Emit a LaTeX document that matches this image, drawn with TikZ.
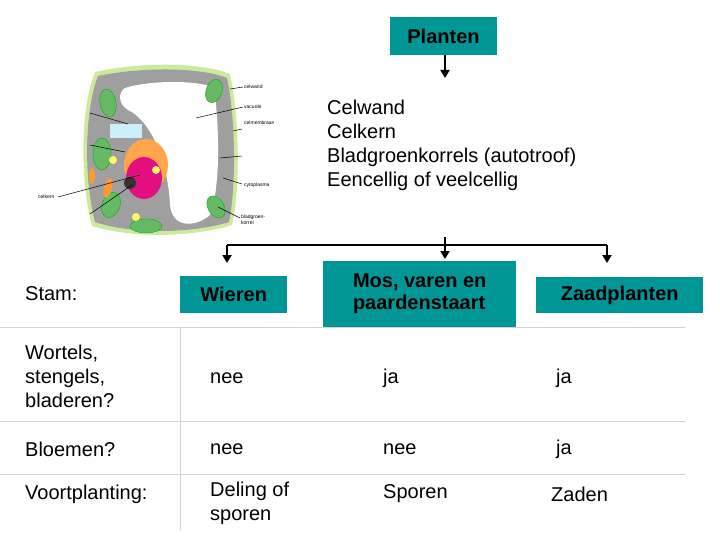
\documentclass[tikz,border=0pt]{standalone}
\usepackage{fontspec}
\setmainfont{Liberation Sans}
\usetikzlibrary{arrows.meta}
\begin{document}
\begin{tikzpicture}[x=1pt,y=-1pt,
  tbox/.style={fill=teal60,draw=none,font=\bfseries\fontsize{20}{22}\selectfont,align=left,inner sep=4pt},
  txt/.style={font=\fontsize{20}{24}\selectfont,anchor=west,align=left,inner sep=0pt},
  small/.style={font=\fontsize{5}{6}\selectfont,anchor=west,inner sep=0pt},
  arr/.style={line width=2.2pt,-{Triangle[length=8pt,width=9pt]}},
  grid/.style={draw=gray!35,line width=0.8pt}]
\definecolor{teal60}{RGB}{0,150,150}
\useasboundingbox (0,0) rectangle (720,540);
% boxes
\node[tbox,minimum width=107pt,minimum height=38pt] (pl) at (443.5,36) {Planten};
\node[tbox,minimum width=107pt,minimum height=37pt,anchor=west] (wi) at (180,294.5) {Wieren};
\node[tbox,minimum width=193pt,minimum height=66pt,anchor=west] (mo) at (323,294) {Mos, varen en\\paardenstaart};
\node[tbox,minimum width=167pt,minimum height=36pt,anchor=west] (za) at (536,295) {Zaadplanten};
% arrows
\coordinate (p1) at (445,78);
\draw[arr] (pl.south -| p1) -- (p1);
\coordinate (hl) at (227,245); \coordinate (hr) at (607,245); \coordinate (hc) at (445,237);
\draw[line width=2.2pt] (hl) -- (hr);
\draw[arr] (hl) -- ++(0,18);
\draw[arr] (hr) -- ++(0,18);
\draw[arr] (hc) -- (445,259);
% feature text
\node[txt] (f) at (327,145) {Celwand\\Celkern\\Bladgroenkorrels (autotroof)\\Eencellig of veelcellig};
% table
\draw[grid] (0,327) -- (685,327);
\draw[grid] (0,421) -- (685,421);
\draw[grid] (0,474) -- (685,474);
\draw[grid] (180,327) -- (180,530);
\node[txt] (s) at (25,294) {Stam:};
\node[txt] (r1) at (25,376) {Wortels,\\stengels,\\bladeren?};
\node[txt] (r2) at (25,449) {Bloemen?};
\node[txt] (r3) at (25,494) {Voortplanting:};
\node[txt] at (210,378) {nee};
\node[txt] at (383,378) {ja};
\node[txt] at (556,378) {ja};
\node[txt] at (210,449) {nee};
\node[txt] at (383,449) {nee};
\node[txt] at (556,449) {ja};
\node[txt,anchor=north west] at (210,482) {Deling of\\sporen};
\node[txt] at (383,494) {Sporen};
\node[txt] at (551,494) {Zaden};
% cell drawing
\fill[yellow!50!green!40] (95,72) .. controls (140,62) and (200,62) .. (230,74) .. controls (240,120) and (240,190) .. (232,225) .. controls (190,238) and (130,238) .. (92,226) .. controls (80,180) and (80,110) .. (95,72) -- cycle;
\fill[gray!75] (98,76) .. controls (140,67) and (200,67) .. (227,78) .. controls (236,120) and (236,188) .. (229,222) .. controls (190,234) and (130,234) .. (95,222) .. controls (84,180) and (84,112) .. (98,76) -- cycle;
\fill[white] (125,88) .. controls (150,80) and (200,80) .. (214,88) .. controls (220,130) and (220,190) .. (210,215) .. controls (195,228) and (172,228) .. (170,205) .. controls (168,160) and (150,120) .. (128,110) .. controls (118,104) and (118,92) .. (125,88) -- cycle;
\foreach \cx/\cy/\rx/\ry/\a in {108/103/8/14/10, 102/154/9/16/0, 111/205/9/13/-20, 146/226/16/7/0, 214/91/8/12/-20, 216/207/8/12/30}
  \fill[green!55!black!60,draw=green!70!black] (\cx,\cy) ellipse[x radius=\rx,y radius=\ry,rotate=\a];
\fill[orange!70] (146,165) ellipse[x radius=22,y radius=26];
\fill[magenta!80!purple] (144,178) ellipse[x radius=18,y radius=21];
\fill[black!80] (130,183) circle (6);
\fill[cyan!20] (110,124) rectangle (142,138);
\foreach \cx/\cy in {113/160,156/170,136/217}
  \fill[yellow!60] (\cx,\cy) circle (4);
\fill[orange!80] (92,176) ellipse[x radius=3,y radius=8];
\fill[orange!80] (108,188) ellipse[x radius=4,y radius=10,rotate=-15];
\foreach \a/\b in {{(230,89)/(243,87)},{(196,118)/(243,107)},{(233,131)/(242,129)},{(220,158)/(242,156)},{(223,178)/(242,184)},{(218,207)/(240,218)},{(58,197)/(140,175)},{(90,113)/(128,124)},{(90,145)/(125,152)},{(90,214)/(132,185)}}
  \draw[black,line width=0.5pt] \a -- \b;
\node[small] at (244,87) {celwand};
\node[small] at (244,107) {vacuole};
\node[small] at (244,123) {celmembraan};
\node[small] at (244,185) {cytoplasma};
\node[small,align=left] at (241,220) {bladgroen-\\korrel};
\node[small] at (38,197) {celkern};
\end{tikzpicture}
\end{document}
